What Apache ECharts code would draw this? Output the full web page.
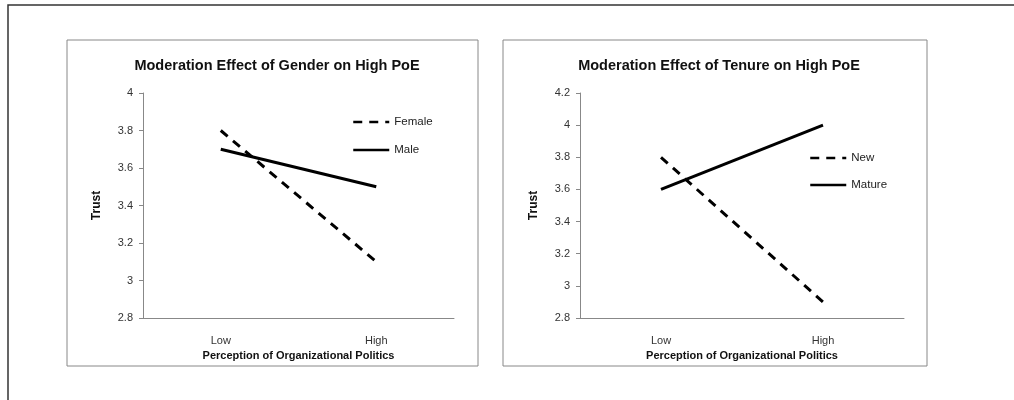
<!DOCTYPE html>
<html>
<head>
<meta charset="utf-8">
<script src="https://cdn.jsdelivr.net/npm/echarts@6/dist/echarts.min.js"></script>
<style>
  html, body { margin: 0; padding: 0; background: #fff; }
  #chart { width: 1014px; height: 400px; }
</style>
</head>
<body>
<div id="chart"></div>
<script>
// categories on the x axis
const categories = ['Low', 'High']
// left panel: gender
const female = [3.8, 3.1]
const male = [3.7, 3.5]
// right panel: tenure
const newcomer = [3.8, 2.9]
const mature = [3.6, 4.0]

const font = 'Liberation Sans'
const dom = echarts.init(document.getElementById('chart'))

function xAxisFor (gridIndex) {
  return {
    type: 'category',
    gridIndex: gridIndex,
    data: categories,
    boundaryGap: true,
    name: 'Perception of Organizational Politics',
    nameLocation: 'middle',
    nameGap: 30,
    nameTextStyle: { color: '#111', fontWeight: 'bold', fontSize: 11, fontFamily: font },
    axisLine: { lineStyle: { color: '#888', width: 1 } },
    axisTick: { show: false },
    axisLabel: { margin: 17, color: '#333', fontSize: 11, fontFamily: font }
  }
}

function yAxisFor (gridIndex, max) {
  return {
    type: 'value',
    gridIndex: gridIndex,
    min: 2.8,
    max: max,
    interval: 0.2,
    name: 'Trust',
    nameLocation: 'middle',
    nameRotate: 90,
    nameGap: 40,
    nameTextStyle: { color: '#111', fontWeight: 'bold', fontSize: 12, fontFamily: font },
    axisLine: { show: true, lineStyle: { color: '#888', width: 1 } },
    axisTick: { show: true, inside: false, length: 4, lineStyle: { color: '#888' } },
    splitLine: { show: false },
    axisLabel: { margin: 10, color: '#333', fontSize: 11, fontFamily: font }
  }
}

function lineSeries (name, data, idx, dashed) {
  return {
    name: name,
    type: 'line',
    xAxisIndex: idx,
    yAxisIndex: idx,
    data: data,
    symbol: 'none',
    smooth: false,
    lineStyle: { color: '#000', width: 3, type: dashed ? [9, 7] : 'solid' },
    itemStyle: { color: '#000' }
  }
}

const legendText = { color: '#222', fontSize: 11.5, fontFamily: font }

const option = {
  animation: false,
  backgroundColor: '#fff',
  graphic: [
    { type: 'rect', shape: { x: 8, y: 5, width: 1020, height: 410 }, style: { fill: 'none', stroke: '#333', lineWidth: 1.5 } },
    { type: 'rect', shape: { x: 67, y: 40, width: 411, height: 326 }, style: { fill: 'none', stroke: '#888', lineWidth: 1 } },
    { type: 'rect', shape: { x: 503, y: 40, width: 424, height: 326 }, style: { fill: 'none', stroke: '#888', lineWidth: 1 } }
  ],
  title: [
    {
      text: 'Moderation Effect of Gender on High PoE',
      left: 272, top: 53, textAlign: 'center',
      textStyle: { fontSize: 14.5, fontWeight: 'bold', color: '#111', fontFamily: font }
    },
    {
      text: 'Moderation Effect of Tenure on High PoE',
      left: 714, top: 53, textAlign: 'center',
      textStyle: { fontSize: 14.5, fontWeight: 'bold', color: '#111', fontFamily: font }
    }
  ],
  legend: [
    {
      data: ['Female', 'Male'],
      orient: 'vertical',
      left: 347, top: 111,
      itemWidth: 36, itemHeight: 10, itemGap: 16,
      itemStyle: { opacity: 0 },
      lineStyle: { width: 2.5 },
      textStyle: legendText
    },
    {
      data: ['New', 'Mature'],
      orient: 'vertical',
      left: 804, top: 147,
      itemWidth: 36, itemHeight: 10, itemGap: 15,
      itemStyle: { opacity: 0 },
      lineStyle: { width: 2.5 },
      textStyle: legendText
    }
  ],
  grid: [
    { left: 143, top: 93, width: 311, height: 225 },
    { left: 580, top: 93, width: 324, height: 225 }
  ],
  xAxis: [xAxisFor(0), xAxisFor(1)],
  yAxis: [yAxisFor(0, 4), yAxisFor(1, 4.2)],
  series: [
    lineSeries('Female', female, 0, true),
    lineSeries('Male', male, 0, false),
    lineSeries('New', newcomer, 1, true),
    lineSeries('Mature', mature, 1, false)
  ]
}

dom.setOption(option)
window.addEventListener('resize', () => dom.resize())
</script>
</body>
</html>
